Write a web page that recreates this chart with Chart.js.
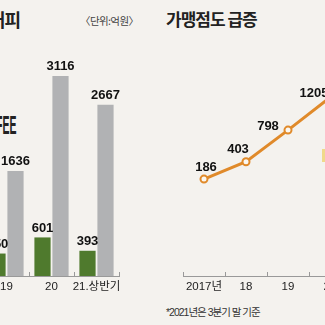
<!DOCTYPE html>
<html>
<head>
<meta charset="utf-8">
<script src="https://cdn.jsdelivr.net/npm/chart.js@4"></script>
<style>
  html, body { margin: 0; padding: 0; }
  body { width: 325px; height: 325px; overflow: hidden; position: relative; background: #f4f2ee;
         font-family: 'Liberation Sans', 'Noto Sans CJK KR', sans-serif; color: #222; }
  .abs { position: absolute; white-space: nowrap; }
  canvas { position: absolute; top: 0; }
</style>
</head>
<body>
<div class="abs" style="left:-11px;top:6px;font:bold 18px 'Noto Sans CJK KR', sans-serif;letter-spacing:-1px;">커피</div>
<div class="abs" style="left:80px;top:13px;font:10.5px 'Noto Sans CJK KR', sans-serif;color:#444;letter-spacing:-0.6px;">〈단위:억원〉</div>
<div class="abs" style="right:309px;top:111px;font:bold 25px 'Liberation Sans', sans-serif;transform:scaleX(0.42);transform-origin:right center;">COFFEE</div>
<div class="abs" style="left:166px;top:6px;font:bold 17px 'Noto Sans CJK KR', sans-serif;letter-spacing:-1px;">가맹점도 급증</div>
<div class="abs" style="left:166px;top:304px;font:10.5px 'Liberation Sans', 'Noto Sans CJK KR', sans-serif;color:#333;letter-spacing:-1px;">*2021년은 3분기 말 기준</div>
<div class="abs" style="left:322px;top:149px;width:6px;height:13px;background:#f0d98a;"></div>

<canvas id="salesChart" width="145" height="300" style="left:-16px;"></canvas>
<canvas id="storeChart" width="180" height="300" style="left:177px;"></canvas>

<script>
// left: 매출(gray) / 영업이익(green), 단위 억원
const periods = ['19', '20', '21.상반기'];
const salesValues = [1636, 3116, 2667];
const profitValues = [350, 601, 393];

// right: 가맹점 수
const storeYears = ['2017년', '18', '19', '20'];
const storeCounts = [186, 403, 798, 1205];

const numFont = "bold 13px 'Liberation Sans', sans-serif";
const tickFont = { family: "'Liberation Sans', 'Noto Sans CJK KR', sans-serif", size: 11.5 };

// value labels above marks
const valueLabels = {
    id: 'valueLabels',
    afterDatasetsDraw(chart, args, opts) {
        const ctx = chart.ctx;
        ctx.save();
        ctx.font = numFont;
        ctx.fillStyle = '#111';
        ctx.textAlign = 'center';
        chart.data.datasets.forEach((ds, i) => {
            chart.getDatasetMeta(i).data.forEach((el, j) => {
                const off = (opts.offsets && opts.offsets[j]) || [0, -3];
                ctx.textBaseline = opts.offsets ? 'middle' : 'bottom';
                ctx.fillText(ds.data[j], el.x + off[0], el.y + off[1]);
            });
        });
        ctx.restore();
    }
};

// small tick marks standing on the axis line at category borders
const axisTicks = {
    id: 'axisTicks',
    afterDraw(chart) {
        const x = chart.scales.x;
        const ctx = chart.ctx;
        const half = (x.getPixelForValue(1) - x.getPixelForValue(0)) / 2;
        ctx.save();
        ctx.strokeStyle = '#999';
        ctx.lineWidth = 1;
        for (let i = 0; i <= chart.data.labels.length; i++) {
            const px = Math.round(x.getPixelForValue(i) - half) + 0.5;
            ctx.beginPath();
            ctx.moveTo(px, x.top - 4);
            ctx.lineTo(px, x.top);
            ctx.stroke();
        }
        ctx.restore();
    }
};

function xAxis() {
    return {
        offset: true,
        grid: { display: false, drawTicks: false, tickLength: 0 },
        border: { display: true, color: '#999', width: 1 },
        ticks: { color: '#222', font: tickFont, padding: 4, maxRotation: 0, autoSkip: false },
        afterFit(scale) {
            scale.height = 20;
            scale.paddingLeft = 0;
            scale.paddingRight = 0;
        }
    };
}

new Chart(document.getElementById('salesChart'), {
    type: 'bar',
    data: {
        labels: periods,
        datasets: [
            { data: profitValues, backgroundColor: '#4f7a2d', categoryPercentage: 0.8, barPercentage: 0.9 },
            { data: salesValues, backgroundColor: '#b1b2b4', categoryPercentage: 0.8, barPercentage: 0.9 }
        ]
    },
    options: {
        responsive: false,
        animation: false,
        devicePixelRatio: 1,
        layout: { padding: { top: 40, bottom: 4, left: 0, right: 10 } },
        plugins: { legend: { display: false }, tooltip: { enabled: false }, valueLabels: {} },
        scales: {
            x: xAxis(),
            y: { display: false, min: 0, max: 3677 }
        }
    },
    plugins: [valueLabels, axisTicks]
});

new Chart(document.getElementById('storeChart'), {
    type: 'line',
    data: {
        labels: storeYears,
        datasets: [{
            data: storeCounts,
            borderColor: '#e08a2a',
            borderWidth: 3,
            pointRadius: 3.5,
            pointBorderWidth: 2,
            pointBackgroundColor: '#fbf8f2',
            pointBorderColor: '#e08a2a',
            tension: 0
        }]
    },
    options: {
        responsive: false,
        animation: false,
        devicePixelRatio: 1,
        layout: { padding: { top: 40, bottom: 4, left: 0, right: 0 } },
        plugins: {
            legend: { display: false },
            tooltip: { enabled: false },
            valueLabels: { offsets: [[2, -12], [-8, -12], [-20, -4], [-16, -4]] }
        },
        scales: {
            x: xAxis(),
            y: { display: false, min: -1024, max: 1923 }
        }
    },
    plugins: [valueLabels, axisTicks]
});
</script>
</body>
</html>
